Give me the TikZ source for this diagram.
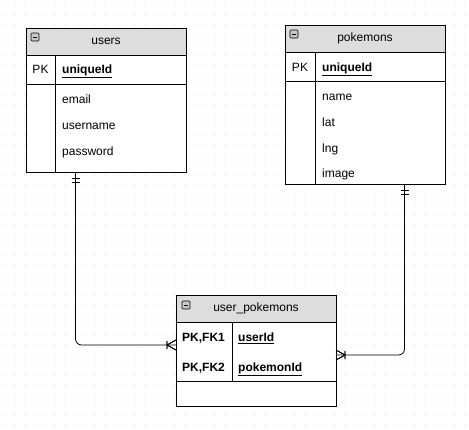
\documentclass[tikz,border=0pt]{standalone}
\usepackage{fontspec}
\setmainfont{Liberation Sans}
\usetikzlibrary{
    positioning,
    decorations.markings,
}
\definecolor{headgray}{HTML}{DDDDDD}
\definecolor{griddot}{HTML}{D8D8D8}
\definecolor{icongray}{HTML}{C8C8C8}
\newcommand{\tablewidth}{160pt}
\newcommand{\titleheight}{27pt}
\newcommand{\fieldfont}{\fontsize{12}{14}\selectfont}
\tikzstyle{tablehead} = [
  draw,
  shape=rectangle,
  color=black,
  fill=headgray,
  line width=0.8pt,
  outer sep=0pt,
  minimum width=\tablewidth,
  minimum height=\titleheight,
  anchor=north west,
  font=\fieldfont,
]
\tikzstyle{tablebody} = [
  draw,
  shape=rectangle,
  color=black,
  fill=white,
  line width=0.8pt,
  outer sep=0pt,
  minimum width=\tablewidth,
]
\tikzstyle{iconbox} = [
  draw,
  shape=rectangle,
  rounded corners=1pt,
  fill=icongray,
  line width=0.6pt,
  inner sep=0pt,
  outer sep=0pt,
  minimum width=8pt,
  minimum height=8pt,
]
\tikzstyle{fieldtext} = [
  anchor=west,
  inner sep=0pt,
  text height=8.6pt,
  text depth=0pt,
  font=\fieldfont,
]
\tikzstyle{keytext} = [fieldtext, font=\fieldfont\bfseries]
\tikzstyle{tableline} = [line width=0.8pt]
\tikzstyle{relline} = [line width=0.8pt, rounded corners=6pt]
\tikzstyle{onlyone} = [
  postaction={decorate},
  decoration={markings,
    mark=at position 0 with {\draw[line width=0.8pt] (6pt,-4pt) -- (6pt,4pt) (10pt,-4pt) -- (10pt,4pt);}},
]
\tikzstyle{onemany} = [
  postaction={decorate},
  decoration={markings,
    mark=at position 1 with {\draw[line width=0.8pt] (-9pt,-4pt) -- (-9pt,4pt) (-9pt,0pt) -- (0pt,5pt) (-9pt,0pt) -- (0pt,-5pt);}},
]
\newcommand{\keyed}[1]{\underline{#1}}

\begin{document}
\begin{tikzpicture}[x=1pt, y=-1pt]
    \useasboundingbox (0,0) rectangle (469,429);
    \fill[white] (0,0) rectangle (469,429);
    % grid
    \foreach \x in {5,15,...,465}
      \foreach \y in {5,15,...,425}
        \fill[griddot] (\x,\y) circle (0.6pt);

    % users
    \node[tablehead] (users) at (26,28) {users};
    \node[tablebody, minimum height=29pt, below=0pt of users] (users_pk) {};
    \node[tablebody, minimum height=88pt, below=0pt of users_pk] (users_cols) {};
    \draw[tableline] ([xshift=29pt]users_pk.north west) -- ([xshift=29pt]users_cols.south west);
    \node[iconbox, below right=5pt and 5pt of users.north west] (users_icon) {\rule{4pt}{0.7pt}};
    \node[fieldtext, anchor=center] (users_pkmark) at (40.5,69) {PK};
    \node[keytext] (users_id) at (62,69) {\keyed{uniqueId}};
    \node[fieldtext] (users_email) at (62,99) {email};
    \node[fieldtext] (users_name) at (62,125) {username};
    \node[fieldtext] (users_pass) at (62,151) {password};

    % pokemons
    \node[tablehead] (pokemons) at (285,25) {pokemons};
    \node[tablebody, minimum height=29pt, below=0pt of pokemons] (pokemons_pk) {};
    \node[tablebody, minimum height=103pt, below=0pt of pokemons_pk] (pokemons_cols) {};
    \draw[tableline] ([xshift=30pt]pokemons_pk.north west) -- ([xshift=30pt]pokemons_cols.south west);
    \node[iconbox, below right=5pt and 5pt of pokemons.north west] (pokemons_icon) {\rule{4pt}{0.7pt}};
    \node[fieldtext, anchor=center] (pokemons_pkmark) at (300,67) {PK};
    \node[keytext] (pokemons_id) at (322,67) {\keyed{uniqueId}};
    \node[fieldtext] (pokemons_name) at (322,96) {name};
    \node[fieldtext] (pokemons_lat) at (322,122) {lat};
    \node[fieldtext] (pokemons_lng) at (322,148) {lng};
    \node[fieldtext] (pokemons_image) at (322,173) {image};

    % user_pokemons
    \node[tablehead] (up) at (176,295) {user\_pokemons};
    \node[tablebody, minimum height=59pt, below=0pt of up] (up_keys) {};
    \node[tablebody, minimum height=25pt, below=0pt of up_keys] (up_foot) {};
    \draw[tableline] ([xshift=56pt]up_keys.north west) -- ([xshift=56pt]up_keys.south west);
    \node[iconbox, below right=6pt and 6pt of up.north west] (up_icon) {\rule{4pt}{0.7pt}};
    \node[keytext] (up_fk1) at (182,337) {PK,FK1};
    \node[keytext] (up_user) at (238,337) {\keyed{userId}};
    \node[keytext] (up_fk2) at (182,367) {PK,FK2};
    \node[keytext] (up_pokemon) at (238,367) {\keyed{pokemonId}};

    % relations
    \draw[relline, onlyone, onemany] ([xshift=-30.5pt]users_cols.south) |- ([yshift=6.5pt]up_keys.west);
    \draw[relline, onlyone, onemany] ([xshift=39.5pt]pokemons_cols.south) |- ([yshift=-3.5pt]up_keys.east);
\end{tikzpicture}
\end{document}
